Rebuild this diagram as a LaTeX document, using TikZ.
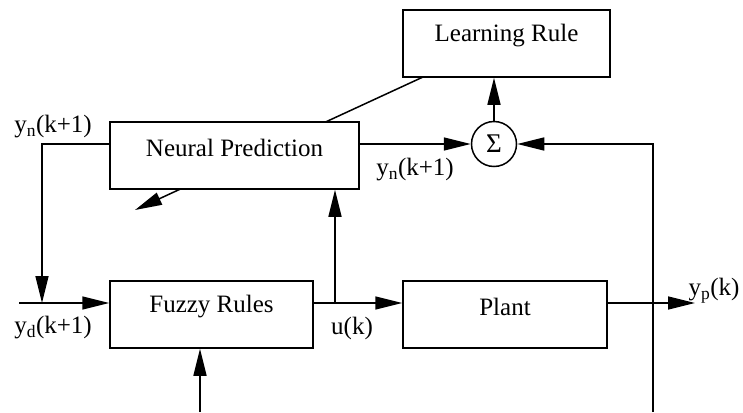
\documentclass[tikz,border=0pt]{standalone}
\usepackage{fontspec}
\setmainfont{Liberation Serif}
\usetikzlibrary{arrows.meta}
\begin{document}
\begin{tikzpicture}[x=1pt,y=-1pt,
  line width=1.5pt,
  font=\fontsize{25}{30}\selectfont,
  arr/.style={-{Triangle[length=27pt,width=13pt]}},
  blk/.style={draw,fill=white,rectangle,inner sep=0pt,minimum height=67pt},
  lbl/.style={inner sep=0pt}
]
\useasboundingbox (0,0) rectangle (743,412);
% diagonal learning arrow (drawn under Neural Prediction box)
\coordinate (d1) at (423,77);
\coordinate (d2) at (135,210);
\draw[arr] (d1) -- (d2);
% blocks
\node[blk,minimum width=207pt,label={[lbl,yshift=8pt]center:Learning Rule}] (LR) at (506.5,43.5) {};
\node[blk,minimum width=249pt,label={[lbl,yshift=8pt]center:Neural Prediction}] (NP) at (234.5,155.5) {};
\node[blk,minimum width=203pt,label={[lbl,yshift=8pt]center:Fuzzy Rules}] (FR) at (211.5,314.5) {};
\node[blk,minimum width=204pt,label={[lbl,yshift=8pt]center:Plant}] (PL) at (505,314.5) {};
\node[draw,circle,minimum size=45pt,inner sep=0pt] (S) at (494,144) {\fontsize{27}{30}\selectfont Σ};
% coordinates
\coordinate (in) at (19,303);
\coordinate (j1) at (42,303);
\coordinate (ju) at (335,303);
\coordinate (out) at (695,303);
\coordinate (fin) at (200,412);
\coordinate (fb) at (653,412);
% connectors
\draw[arr] (NP.east |- S.west) -- (S.west);
\draw[arr] (S.north) -- (S.north |- LR.south);
\draw[arr] (fb) |- (S.east);
\draw[arr] (NP.west |- S.west) -| (j1);
\draw[arr] (in) -- (FR.west |- in);
\draw[arr] (FR.east |- in) -- (PL.west |- in);
\draw[arr] (ju) -- (ju |- NP.south);
\draw[arr] (PL.east |- in) -- (out);
\draw[arr] (fin) -- (fin |- FR.south);
% labels
\node[lbl] (l1) at (53,127) {y\textsubscript{n}(k+1)};
\node[lbl] (l2) at (415,170) {y\textsubscript{n}(k+1)};
\node[lbl] (l3) at (53,328) {y\textsubscript{d}(k+1)};
\node[lbl] (l4) at (352,328) {u(k)};
\node[lbl] (l5) at (714,291) {y\textsubscript{p}(k)};
\end{tikzpicture}
\end{document}
